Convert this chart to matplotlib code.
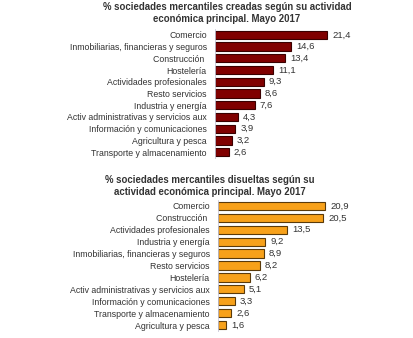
import matplotlib.pyplot as plt

plt.rcParams['font.family'] = ['Liberation Sans', 'DejaVu Sans']

# creadas
cat_creadas = ['Comercio', 'Inmobiliarias, financieras y seguros', 'Construcción ',
               'Hostelería', 'Actividades profesionales', 'Resto servicios',
               'Industria y energía', 'Activ administrativas y servicios aux',
               'Información y comunicaciones', 'Agricultura y pesca',
               'Transporte y almacenamiento']
val_creadas = [21.4, 14.6, 13.4, 11.1, 9.3, 8.6, 7.6, 4.3, 3.9, 3.2, 2.6]

# disueltas
cat_disueltas = ['Comercio', 'Construcción ', 'Actividades profesionales',
                 'Industria y energía', 'Inmobiliarias, financieras y seguros',
                 'Resto servicios', 'Hostelería', 'Activ administrativas y servicios aux',
                 'Información y comunicaciones', 'Transporte y almacenamiento',
                 'Agricultura y pesca']
val_disueltas = [20.9, 20.5, 13.5, 9.2, 8.9, 8.2, 6.2, 5.1, 3.3, 2.6, 1.6]

W, H = 414, 338
fig = plt.figure(figsize=(W / 100, H / 100), dpi=100)


def barras(ax, cats, vals, color, edge, xmax):
    y = list(range(len(cats)))
    ax.barh(y, vals, height=0.7, color=color, edgecolor=edge, linewidth=0.8)
    for yi, v in zip(y, vals):
        ax.text(v + xmax * 0.03, yi, f'{v:.1f}'.replace('.', ','), va='center',
                ha='left', fontsize=6.8, color='#333333')
    ax.set_yticks(y)
    ax.set_yticklabels(cats, fontsize=6.3, color='#333333')
    ax.set_ylim(len(cats) - 0.5, -0.5)
    ax.set_xlim(0, xmax)
    ax.set_xticks([])
    ax.tick_params(axis='y', length=0, pad=6)
    for s in ['top', 'right', 'bottom']:
        ax.spines[s].set_visible(False)
    ax.spines['left'].set_color('#c8c8d8')
    ax.spines['left'].set_linewidth(0.6)


ax1 = fig.add_axes([215 / W, (H - 158) / H, 165 / W, 129 / H])
barras(ax1, cat_creadas, val_creadas, '#800000', '#3a0000', 31.5)

ax2 = fig.add_axes([218 / W, (H - 331) / H, 165 / W, 131 / H])
barras(ax2, cat_disueltas, val_disueltas, '#f7a11a', '#5a3a0a', 32.2)

fig.text(227 / W, 1 - 13 / H, '% sociedades mercantiles creadas según su actividad\neconómica principal. Mayo 2017',
         ha='center', va='center', fontsize=6.9, fontweight='bold', color='#333333',
         linespacing=1.25)
fig.text(210 / W, 1 - 186 / H, '% sociedades mercantiles disueltas según su\nactividad económica principal. Mayo 2017',
         ha='center', va='center', fontsize=6.9, fontweight='bold', color='#333333',
         linespacing=1.15)

fig.savefig('out.png', dpi=100, facecolor='white')
